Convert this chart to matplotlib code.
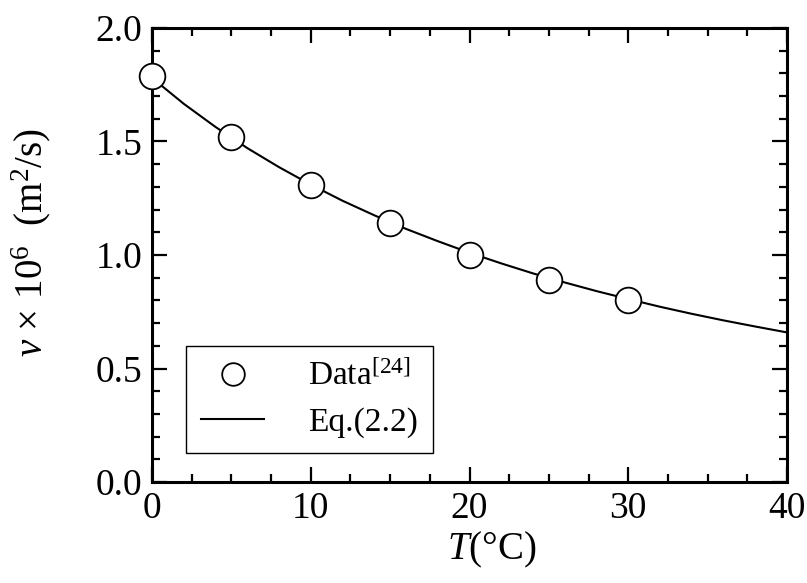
import numpy as np
import matplotlib.pyplot as plt
from matplotlib.ticker import MultipleLocator

plt.rcParams['font.family'] = ['Liberation Serif', 'DejaVu Serif']
plt.rcParams['mathtext.fontset'] = 'custom'
plt.rcParams['mathtext.rm'] = 'Liberation Serif'
plt.rcParams['mathtext.it'] = 'Liberation Serif:italic'

# measured viscosity (x 1e6 m^2/s)
data_T = [0, 5, 10, 15, 20, 25, 30]
data_nu = [1.79, 1.52, 1.31, 1.14, 1.00, 0.89, 0.80]

eq_T = [0, 2, 4, 6, 8, 10, 12, 14, 16, 18, 20,
        22, 24, 26, 28, 30, 32, 34, 36, 38, 40]
eq_nu = [1.780, 1.666, 1.564, 1.471, 1.387, 1.310, 1.239, 1.175, 1.115, 1.061, 1.010,
         0.963, 0.919, 0.879, 0.841, 0.806, 0.772, 0.741, 0.712, 0.685, 0.659]

fig = plt.figure(figsize=(8.07, 5.83), dpi=100)
ax = fig.add_axes([0.1884, 0.1732, 0.7868, 0.7788])

ax.plot(eq_T, eq_nu, '-', color='k', lw=1.5, label='Eq.(2.2)', zorder=2)
ax.plot(data_T, data_nu, 'o', ms=18.5, mfc='white', mec='k', mew=1.3,
        label='Data$^{[24]}$', zorder=3, clip_on=False)

ax.set_xlim(0, 40)
ax.set_ylim(0, 2.0)
ax.xaxis.set_major_locator(MultipleLocator(10))
ax.xaxis.set_minor_locator(MultipleLocator(2.5))
ax.yaxis.set_major_locator(MultipleLocator(0.5))
ax.yaxis.set_minor_locator(MultipleLocator(0.1))
ax.yaxis.set_major_formatter(plt.FormatStrFormatter('%.1f'))

ax.tick_params(which='both', direction='in', top=True, right=True, width=1.6,
               labelsize=27, pad=7)
ax.tick_params(which='major', length=11)
ax.tick_params(which='minor', length=5.5)
for s in ax.spines.values():
    s.set_linewidth(2.2)

ax.set_xlabel(r'$T$(°C)', fontsize=28, labelpad=0)
ax.xaxis.set_label_coords(0.535, -0.105)
ax.set_ylabel(r'$\nu$ $\times$ 10$^6$  (m$^2$/s)', fontsize=28)
ax.yaxis.set_label_coords(-0.156, 0.527)

h, l = ax.get_legend_handles_labels()
leg = ax.legend([h[1], h[0]], [l[1], l[0]], loc='lower left',
                bbox_to_anchor=(0.0535, 0.064), borderaxespad=0,
                fontsize=24, fancybox=False,
                edgecolor='k', framealpha=1, markerscale=0.88,
                handlelength=1.9, handletextpad=1.3, borderpad=0.45,
                labelspacing=0.45)
leg.get_frame().set_linewidth(1.0)

fig.savefig('out.png', dpi=100)
